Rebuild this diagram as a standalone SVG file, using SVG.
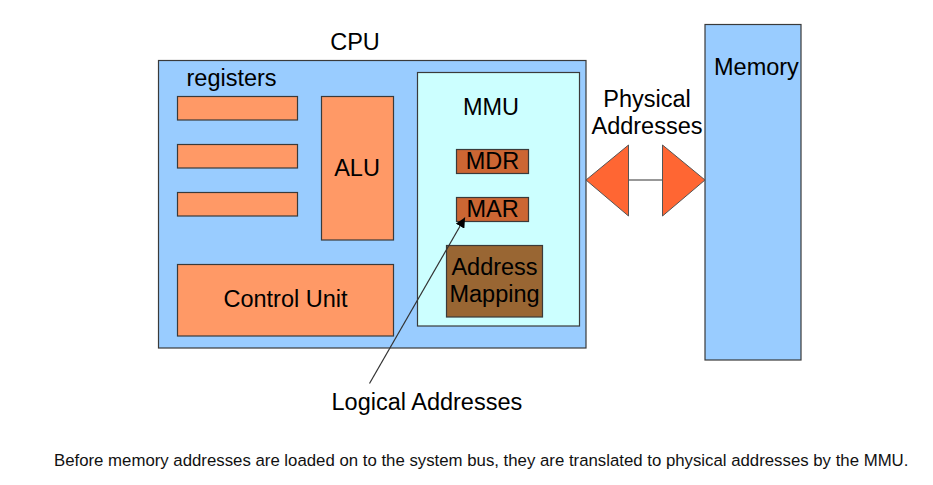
<svg xmlns="http://www.w3.org/2000/svg" width="933" height="485" viewBox="0 0 933 485">
<defs>
<style>
text{font-family:"Liberation Sans",Arial,sans-serif;fill:#000;}
.lbl{font-size:23.5px;}
.cap{font-size:16.8px;fill:#111;}
.box{stroke:#3a3a3a;stroke-width:1.2;}
.cpu{fill:#99ccff;}
.mmu{fill:#ccffff;}
.org{fill:#ff9966;}
.reg{fill:#cc6633;}
.map{fill:#996633;}
.tri{fill:#ff6633;stroke:#555;stroke-width:1;}
.conn{stroke:#333;stroke-width:1.2;fill:none;}
</style>
<marker id="ah" viewBox="0 0 10 10" refX="10" refY="5" markerWidth="10" markerHeight="10" markerUnits="userSpaceOnUse" orient="auto">
<path d="M0,0 L10,5 L0,10 z" fill="#000"/>
</marker>
</defs>
<rect width="933" height="485" fill="#fff"/>
<g id="cpu">
<rect class="box cpu" x="158.5" y="60.5" width="427.5" height="287.5"/>
<text class="lbl" x="355" y="50" text-anchor="middle">CPU</text>
</g>
<g id="registers">
<text class="lbl" x="186.5" y="86">registers</text>
<rect class="box org" x="177.5" y="96.5" width="120" height="23.5"/>
<rect class="box org" x="177.5" y="144.5" width="120" height="23.5"/>
<rect class="box org" x="177.5" y="192.5" width="120" height="23.5"/>
</g>
<g id="alu">
<rect class="box org" x="321.5" y="96.5" width="72" height="143.5"/>
<text class="lbl" x="357" y="176" text-anchor="middle">ALU</text>
</g>
<g id="control-unit">
<rect class="box org" x="177.5" y="264.5" width="216" height="71.5"/>
<text class="lbl" x="285.5" y="307" text-anchor="middle">Control Unit</text>
</g>
<g id="mmu">
<rect class="box mmu" x="417.5" y="72.5" width="162" height="253.5"/>
<text class="lbl" x="491" y="115" text-anchor="middle">MMU</text>
</g>
<g id="mdr">
<rect class="box reg" x="456.5" y="149.5" width="72" height="24"/>
<text class="lbl" x="492.5" y="169" text-anchor="middle">MDR</text>
</g>
<g id="mar">
<rect class="box reg" x="456.5" y="197.5" width="72" height="24"/>
<text class="lbl" x="492.5" y="217" text-anchor="middle">MAR</text>
</g>
<g id="address-mapping">
<rect class="box map" x="446.5" y="245.5" width="96" height="71.5"/>
<text class="lbl" x="494.5" y="275" text-anchor="middle">Address</text>
<text class="lbl" x="494.5" y="302" text-anchor="middle">Mapping</text>
</g>
<g id="memory">
<rect class="box cpu" x="705" y="24.5" width="96" height="335.5"/>
<text class="lbl" x="714" y="74.5">Memory</text>
</g>
<g id="physical-label">
<text class="lbl" x="647" y="107" text-anchor="middle">Physical</text>
<text class="lbl" x="647" y="133.5" text-anchor="middle">Addresses</text>
</g>
<g id="logical-label">
<text class="lbl" x="331.5" y="410">Logical Addresses</text>
</g>
<g id="connectors">
<line class="conn" x1="628.5" y1="180" x2="662.5" y2="180"/>
<polygon class="tri" points="586,180 628.5,145 628.5,216"/>
<polygon class="tri" points="705,180 662.5,145 662.5,216"/>
<line class="conn" x1="369.5" y1="383.5" x2="465" y2="217.5" marker-end="url(#ah)"/>
</g>
<g id="caption">
<text class="cap" x="54" y="466">Before memory addresses are loaded on to the system bus, they are translated to physical addresses by the MMU.</text>
</g>
</svg>
